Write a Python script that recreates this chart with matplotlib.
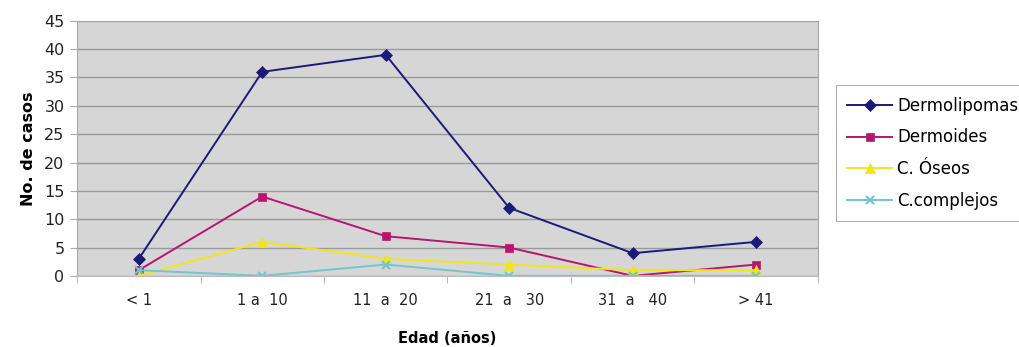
import numpy as np
import matplotlib.pyplot as plt

# Data
categories = ["< 1", "1 a  10", "11  a  20", "21  a   30", "31  a   40", "> 41"]
dermolipomas = [3, 36, 39, 12, 4, 6]
dermoides = [1, 14, 7, 5, 0, 2]
c_oseos = [0, 6, 3, 2, 1, 1]
c_complejos = [1, 0, 2, 0, 0, 0]

series = [
    ("Dermolipomas", dermolipomas, "#1c1a78", "D", 6),
    ("Dermoides", dermoides, "#b8156e", "s", 6),
    ("C. Óseos", c_oseos, "#f2e51a", "^", 7),
    ("C.complejos", c_complejos, "#72c6cc", "x", 6),
]

fig = plt.figure(figsize=(10.19, 3.47), dpi=100)
ax = fig.add_axes([0.0756, 0.205, 0.727, 0.735])
ax.set_facecolor("#d6d6d6")

x = np.arange(len(categories)) + 0.5
for name, vals, color, marker, ms in series:
    ax.plot(x, vals, color=color, marker=marker, markersize=ms, linewidth=1.4,
            markeredgewidth=1.5 if marker == "x" else 0.5, label=name)

ax.set_xlim(0, len(categories))
ax.set_ylim(0, 45)
ax.set_yticks(range(0, 46, 5))
ax.set_xticks(x)
ax.set_xticklabels(categories)
ax.set_xticks(np.arange(len(categories) + 1), minor=True)
ax.tick_params(axis="x", which="major", length=0, pad=12, labelsize=10.5, colors="#222222")
ax.tick_params(axis="x", which="minor", length=5, color="#aaaaaa")
ax.tick_params(axis="y", length=5, color="#aaaaaa", labelsize=11.5, colors="#222222", pad=4)
ax.yaxis.grid(True, color="#9a9a9a", linewidth=1)
ax.set_axisbelow(True)
for side in ["top", "right", "left"]:
    ax.spines[side].set_color("#a8a8a8")
ax.spines["bottom"].set_color("#bcbcbc")

ax.set_ylabel("No. de casos", fontsize=11.5, fontweight="bold", labelpad=6)
ax.set_xlabel("Edad (años)", fontsize=10.5, fontweight="bold", labelpad=17)

leg = fig.legend(loc="upper left", bbox_to_anchor=(0.820, 0.755), frameon=True,
                 fancybox=False, edgecolor="#999999", fontsize=12,
                 handlelength=2.7, handletextpad=0.3, labelspacing=0.82,
                 borderpad=0.7, borderaxespad=0)
leg.get_frame().set_linewidth(0.8)

fig.savefig("out.png", dpi=100)
